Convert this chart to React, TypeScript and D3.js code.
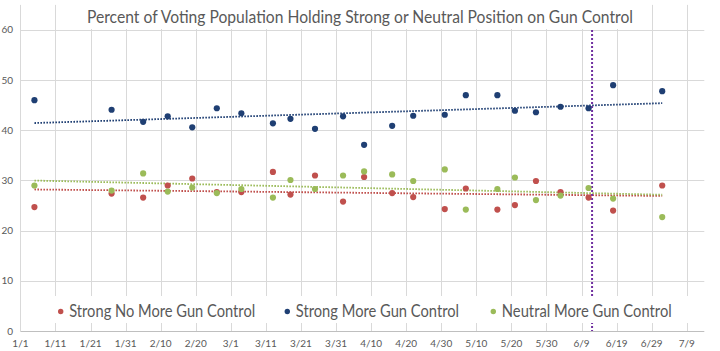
import React from "react";
import * as d3 from "d3";

const YEAR = 2016;
const dates = ["1/5","1/27","2/5","2/12","2/19","2/26","3/4","3/13","3/18","3/25","4/2","4/8","4/16","4/22","5/1","5/7","5/16","5/21","5/27","6/3","6/11","6/18","7/2"];
const strongNoMore = [24.7, 27.4, 26.6, 29.0, 30.4, 27.7, 27.7, 31.7, 27.2, 31.0, 25.8, 30.7, 27.5, 26.7, 24.3, 28.4, 24.2, 25.1, 29.9, 27.7, 26.6, 24.0, 29.0];
const strongMore = [46.0, 44.1, 41.7, 42.8, 40.6, 44.4, 43.4, 41.4, 42.3, 40.3, 42.8, 37.1, 40.9, 42.9, 43.1, 47.0, 47.0, 43.9, 43.6, 44.7, 44.4, 49.0, 47.8];
const neutralMore = [29.0, 28.0, 31.4, 27.8, 28.6, 27.5, 28.3, 26.6, 30.1, 28.3, 31.0, 31.8, 31.2, 29.9, 32.2, 24.2, 28.3, 30.6, 26.1, 27.0, 28.5, 26.4, 22.7];
const seriesNames = ["Strong No More Gun Control", "Strong More Gun Control", "Neutral More Gun Control"];
const xTickLabels = ["1/1","1/11","1/21","1/31","2/10","2/20","3/1","3/11","3/21","3/31","4/10","4/20","4/30","5/10","5/20","5/30","6/9","6/19","6/29","7/9"];
const yTickValues = [0, 10, 20, 30, 40, 50, 60];
const xDomainLabels = ["1/1", "7/14"];
const yDomain = [0, 65];
const eventDate = "6/12";
const eventRange = [0, 60];
const title = "Percent of Voting Population Holding Strong or Neutral Position on Gun Control";

const parse = (s: string) => {
  const [m, d] = s.split("/").map(Number);
  return new Date(Date.UTC(YEAR, m - 1, d));
};

const COLORS = ["#C0504D", "#1F3F73", "#9BBB59"];
const FONT = "Lato, 'Liberation Sans', sans-serif";

export default function App() {
  const W = 720, H = 351;
  const left = 20.4, right = 704.3, top = 4.9, bottom = 331;
  const x = d3.scaleUtc().domain(xDomainLabels.map(parse)).range([left, right]);
  const y = d3.scaleLinear().domain(yDomain).range([bottom, top]);
  const allSeries = [strongNoMore, strongMore, neutralMore];
  const xs = dates.map(parse);
  const dayOf = (d: Date) => (d.getTime() - xs[0].getTime()) / 86400000;

  const trend = (vals: number[]) => {
    const n = vals.length;
    const t = xs.map(dayOf);
    const mt = d3.mean(t)!, mv = d3.mean(vals)!;
    let sxy = 0, sxx = 0;
    t.forEach((ti, i) => { sxy += (ti - mt) * (vals[i] - mv); sxx += (ti - mt) ** 2; });
    const b = sxy / sxx, a = mv - b * mt;
    const line = d3.line<Date>().x(d => x(d)).y(d => y(a + b * dayOf(d)));
    return line([xs[0], xs[n - 1]]) || "";
  };

  const legendX = [60.7, 287.3, 493.3];
  const legendLen = [186, 163.3, 170];

  return (
    <svg width={W} height={H} style={{ position: "fixed", left: 0, top: 0, background: "#fff" }} fontFamily={FONT}>
      <rect x={0} y={0} width={W} height={H} fill="#fff" />
      {yTickValues.filter(v => v > 0).map(v => (
        <line key={"h" + v} x1={left} x2={right} y1={Math.round(y(v)) + 0.5} y2={Math.round(y(v)) + 0.5} stroke="#D9D9D9" strokeWidth={1} />
      ))}
      {xTickLabels.map(l => (
        <line key={"v" + l} x1={Math.round(x(parse(l))) + 0.5} x2={Math.round(x(parse(l))) + 0.5} y1={top} y2={bottom} stroke="#D9D9D9" strokeWidth={1} />
      ))}
      <line x1={left} x2={right} y1={Math.round(bottom) + 0.5} y2={Math.round(bottom) + 0.5} stroke="#BFBFBF" strokeWidth={1} />
      {yTickValues.map(v => (
        <text key={"yl" + v} x={13} y={y(v) + 3.5} textAnchor="end" fontSize={10} fill="#595959">{v}</text>
      ))}
      {xTickLabels.map(l => (
        <text key={"xl" + l} x={x(parse(l))} y={346.5} textAnchor="middle" fontSize={10} fill="#595959">{l}</text>
      ))}
      {allSeries.map((s, i) => (
        <path key={"t" + i} d={trend(s)} fill="none" stroke={COLORS[i]} strokeWidth={1.8} strokeDasharray="1.6 1.4" />
      ))}
      <line x1={x(parse(eventDate))} x2={x(parse(eventDate))} y1={y(eventRange[1])} y2={y(eventRange[0])} stroke="#7030A0" strokeWidth={2} strokeDasharray="2 2" />
      {allSeries.map((s, i) => (
        <g key={"p" + i}>
          {s.map((v, j) => (
            <circle key={j} cx={x(xs[j])} cy={y(v)} r={3.1} fill={COLORS[i]} />
          ))}
        </g>
      ))}
      <rect x={75} y={0} width={570} height={29} fill="#fff" />
      <text x={360} y={23.3} textAnchor="middle" fontSize={16.5} fill="#595959" textLength={546} lengthAdjust="spacingAndGlyphs">{title}</text>
      <rect x={50} y={296} width={642} height={27} fill="#fff" />
      {seriesNames.map((n, i) => (
        <g key={"lg" + i}>
          <circle cx={legendX[i]} cy={311.5} r={2.7} fill={COLORS[i]} />
          <text x={legendX[i] + 8.5} y={316.7} fontSize={16.3} fill="#595959" textLength={legendLen[i]} lengthAdjust="spacingAndGlyphs">{n}</text>
        </g>
      ))}
    </svg>
  );
}
